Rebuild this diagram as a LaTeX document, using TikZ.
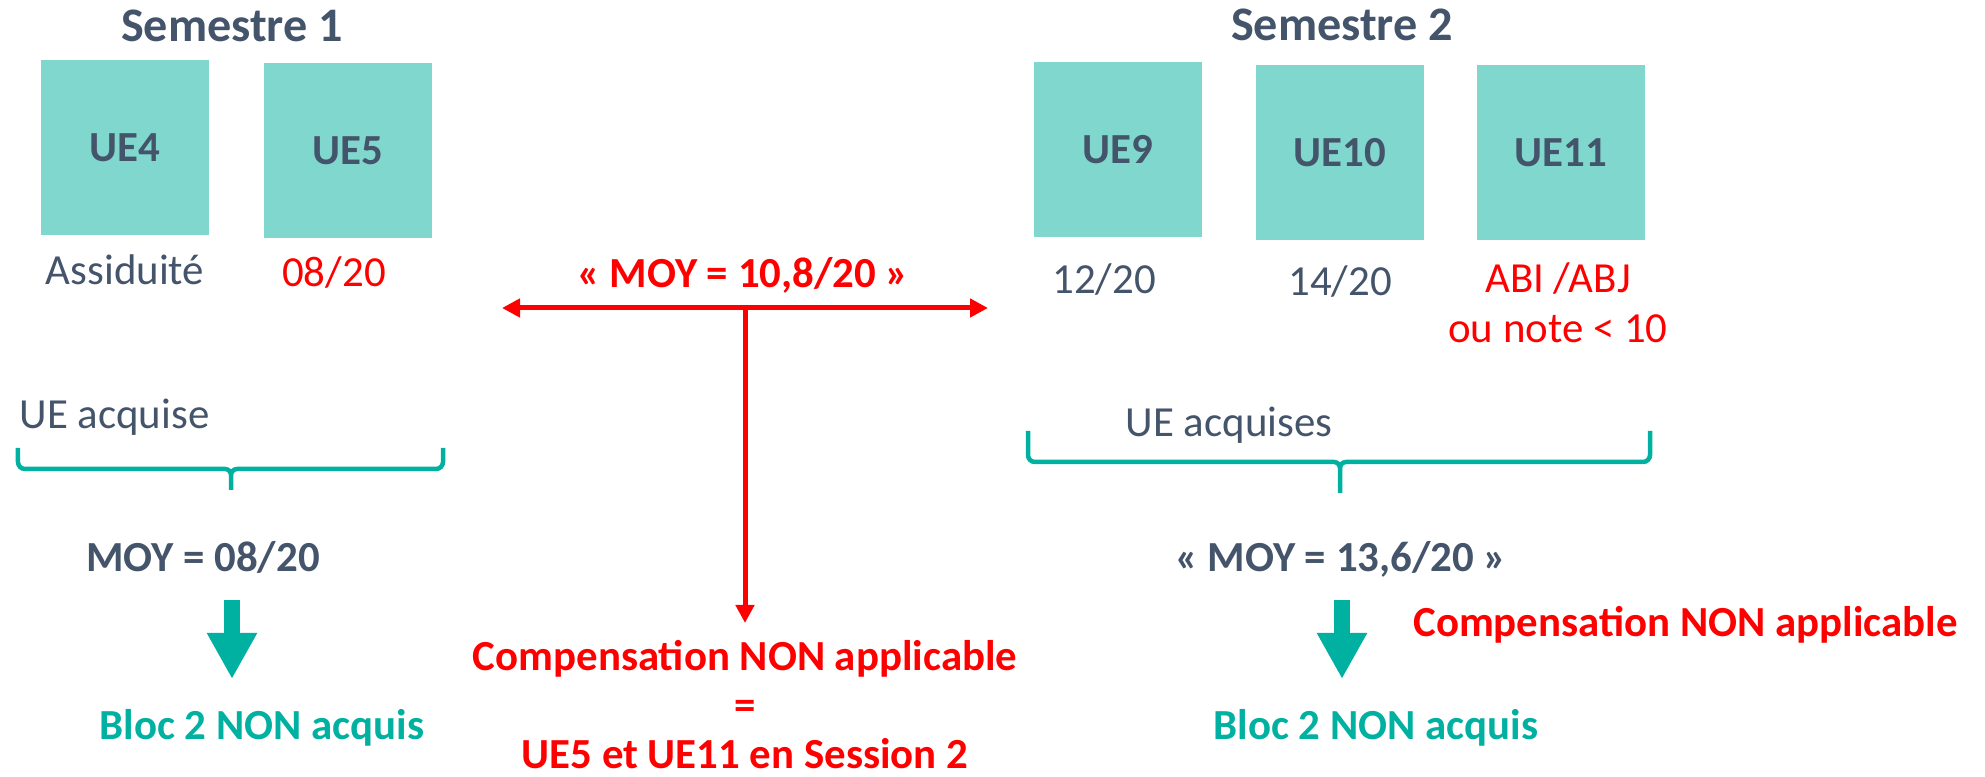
\documentclass[tikz,border=0pt]{standalone}
\usepackage{fontspec}
\setmainfont{Carlito}
\usetikzlibrary{arrows.meta}
\definecolor{ueteal}{RGB}{128,215,206}
\definecolor{ink}{RGB}{68,84,106}
\definecolor{vert}{RGB}{0,176,160}
\definecolor{rouge}{RGB}{255,0,0}
\begin{document}
\begin{tikzpicture}[
  >={Triangle[length=0.18cm,width=0.18cm]},
  txt/.style={inner sep=0pt, anchor=base, text=ink, font=\fontsize{12.2}{14.2}\selectfont},
  gras/.style={txt, font=\fontsize{12.2}{14.2}\selectfont\bfseries},
  titre/.style={txt, font=\fontsize{13.7}{16}\selectfont\bfseries},
  ue/.style={fill=ueteal, minimum width=1.68cm, minimum height=1.75cm, inner sep=0pt,
    text=ink, font=\fontsize{12.2}{14.2}\selectfont\bfseries},
  accolade/.style={vert, line width=0.045cm},
  fleche/.style={rouge, line width=0.05cm},
  bloc/.style={vert, line width=0.16cm, -{Triangle[length=0.46cm,width=0.47cm]}}
]
\useasboundingbox (0,0) rectangle (19.85,-7.77);
% semestre 1
\node [titre] (s1) at (2.32,-0.42) {Semestre 1};
\node [ue] (ue4) at (1.25,-1.475) {UE4};
\node [ue] (ue5) at (3.48,-1.505) {UE5};
\node [txt] (assid) at (1.25,-2.85) {Assiduité};
\node [txt, text=rouge] (n5) at (3.34,-2.87) {08/20};
% semestre 2
\node [titre] (s2) at (13.42,-0.41) {Semestre 2};
\node [ue] (ue9) at (11.18,-1.495) {UE9};
\node [ue] (ue10) at (13.40,-1.525) {UE10};
\node [ue] (ue11) at (15.61,-1.525) {UE11};
\node [txt] (n9) at (11.04,-2.94) {12/20};
\node [txt] (n10) at (13.40,-2.96) {14/20};
\node [txt, text=rouge] (abi) at (15.58,-2.93) {ABI /ABJ};
\node [txt, text=rouge] (inf10) at (15.58,-3.43) {ou note < 10};
% moyenne generale
\node [gras, text=rouge] (moyg) at (7.43,-2.88) {« MOY = 10,8/20 »};
\coordinate (hg) at (5.02,-3.08);
\coordinate (hd) at (9.88,-3.08);
\coordinate (hm) at (7.45,-3.08);
\coordinate (hb) at (7.45,-6.23);
\draw [fleche, <->] (hg) -- (hd);
\draw [fleche, ->] (hm) -- (hb);
\node [gras, text=rouge] (comp) at (7.45,-6.71) {Compensation NON applicable};
\node [gras, text=rouge] (egal) at (7.45,-7.20) {=};
\node [gras, text=rouge] (sess) at (7.45,-7.69) {UE5 et UE11 en Session 2};
% accolades
\node [txt] (acq1) at (1.145,-4.29) {UE acquise};
\draw [accolade] (0.18,-4.48) -- (0.18,-4.62) to[out=-90,in=180] (0.25,-4.69) -- (2.25,-4.69)
  to[out=0,in=90] (2.31,-4.75) -- (2.31,-4.90);
\draw [accolade] (4.43,-4.48) -- (4.43,-4.62) to[out=-90,in=0] (4.36,-4.69) -- (2.37,-4.69)
  to[out=180,in=90] (2.31,-4.75);
\node [txt] (acq2) at (12.29,-4.37) {UE acquises};
\draw [accolade] (10.28,-4.31) -- (10.28,-4.55) to[out=-90,in=180] (10.35,-4.62) -- (13.34,-4.62)
  to[out=0,in=90] (13.40,-4.68) -- (13.40,-4.93);
\draw [accolade] (16.50,-4.31) -- (16.50,-4.55) to[out=-90,in=0] (16.43,-4.62) -- (13.46,-4.62)
  to[out=180,in=90] (13.40,-4.68);
% moyennes des semestres
\node [gras] (moy1) at (2.03,-5.72) {MOY = 08/20};
\node [gras] (moy2) at (13.41,-5.72) {« MOY = 13,6/20 »};
\coordinate (a1) at (2.32,-6.00);
\coordinate (b1) at (2.32,-6.79);
\coordinate (a2) at (13.42,-6.00);
\coordinate (b2) at (13.42,-6.79);
\draw [bloc] (a1) -- (b1);
\draw [bloc] (a2) -- (b2);
\node [gras, text=rouge] (comp2) at (16.855,-6.37) {Compensation NON applicable};
\node [gras, text=vert] (bloc1) at (2.62,-7.40) {Bloc 2 NON acquis};
\node [gras, text=vert] (bloc2) at (13.76,-7.40) {Bloc 2 NON acquis};
\end{tikzpicture}
\end{document}
